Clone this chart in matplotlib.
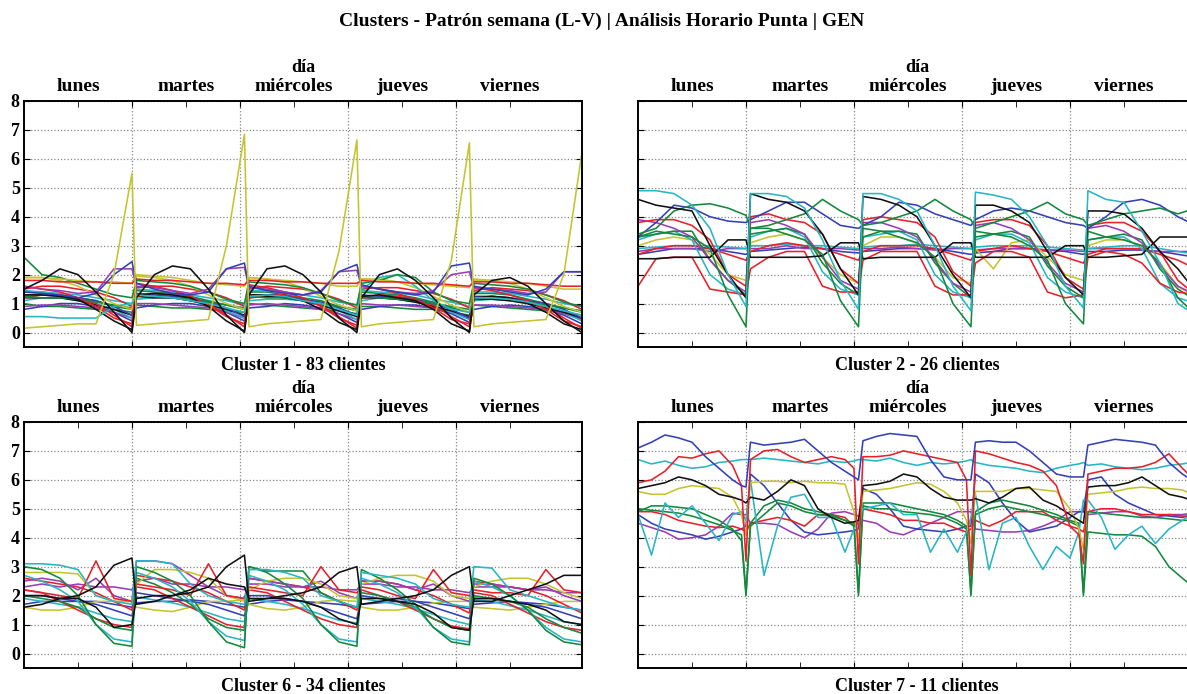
import matplotlib
matplotlib.use('Agg')
import matplotlib.pyplot as plt
import numpy as np

plt.rcParams['font.family'] = ['Liberation Serif', 'DejaVu Serif']
plt.rcParams['font.weight'] = 'bold'

titulo = 'Clusters - Patrón semana (L-V) | Análisis Horario Punta | GEN'
dias = ['lunes', 'martes', 'miércoles', 'jueves', 'viernes']
horas = [0, 4, 8, 12, 16, 20, 24]
horas_c7 = [0, 3, 6, 9, 12, 15, 18, 21, 23, 24]

COLORES = {'b': '#3440b8', 'g': '#14883c', 'r': '#e8202a', 'c': '#26b6c4',
           'm': '#9c3cb4', 'y': '#c4c430', 'k': '#111111'}

# cluster 1 - 83 clientes (valores lunes..viernes, horas 0,4,...,24)
c1_nombre = 'Cluster 1 - 83 clientes'
c1_colores = ['g', 'b', 'm', 'c', 'g', 'k', 'r', 'b', 'c', 'g', 'r', 'y', 'r', 'k', 'c', 'g', 'y', 'r', 'm', 'b', 'k', 'y']
c1_valores = [
    [[1.0, 0.9, 0.9, 0.85, 0.8, 0.8, 0.7], [0.95, 0.9, 0.85, 0.85, 0.8, 0.75, 0.7], [1.0, 0.95, 0.9, 0.85, 0.8, 0.75, 0.65], [0.9, 0.9, 0.85, 0.8, 0.8, 0.7, 0.6], [0.95, 0.9, 0.85, 0.8, 0.75, 0.7, 0.6]],
    [[0.8, 0.9, 1.0, 1.0, 0.9, 0.7, 0.4], [0.85, 0.95, 1.0, 1.0, 0.9, 0.7, 0.4], [0.85, 0.9, 1.0, 0.95, 0.85, 0.65, 0.35], [0.8, 0.9, 0.95, 0.95, 0.85, 0.65, 0.35], [0.8, 0.9, 0.95, 0.9, 0.8, 0.6, 0.3]],
    [[0.9, 0.95, 0.95, 0.9, 0.85, 0.7, 0.5], [1.0, 1.0, 0.95, 0.9, 0.85, 0.7, 0.5], [0.95, 1.0, 0.95, 0.9, 0.8, 0.65, 0.45], [1.0, 0.95, 0.95, 0.9, 0.85, 0.7, 0.5], [0.95, 0.95, 0.9, 0.85, 0.8, 0.65, 0.45]],
    [[1.1, 1.2, 1.2, 1.1, 1.0, 0.8, 0.5], [1.15, 1.2, 1.2, 1.1, 1.0, 0.75, 0.5], [1.1, 1.15, 1.15, 1.1, 0.95, 0.75, 0.45], [1.1, 1.2, 1.15, 1.05, 0.95, 0.7, 0.45], [1.1, 1.15, 1.1, 1.0, 0.9, 0.7, 0.4]],
    [[1.4, 1.4, 1.3, 1.2, 1.1, 0.9, 0.8], [1.45, 1.4, 1.35, 1.25, 1.1, 0.95, 0.8], [1.4, 1.4, 1.3, 1.2, 1.1, 0.9, 0.75], [1.4, 1.35, 1.3, 1.2, 1.05, 0.85, 0.7], [1.35, 1.35, 1.3, 1.15, 1.0, 0.85, 0.7]],
    [[1.2, 1.2, 1.2, 1.1, 0.95, 0.8, 0.6], [1.25, 1.2, 1.2, 1.1, 0.95, 0.8, 0.6], [1.2, 1.25, 1.2, 1.1, 0.95, 0.75, 0.55], [1.2, 1.2, 1.15, 1.05, 0.9, 0.75, 0.55], [1.15, 1.15, 1.1, 1.0, 0.85, 0.7, 0.5]],
    [[1.2, 1.3, 1.3, 1.2, 1.0, 0.6, 0.2], [1.25, 1.35, 1.3, 1.2, 1.0, 0.6, 0.2], [1.2, 1.3, 1.3, 1.15, 0.95, 0.55, 0.15], [1.2, 1.3, 1.25, 1.15, 0.95, 0.55, 0.2], [1.15, 1.25, 1.2, 1.1, 0.9, 0.5, 0.15]],
    [[1.3, 1.3, 1.25, 1.2, 1.1, 0.9, 0.6], [1.35, 1.3, 1.25, 1.2, 1.05, 0.85, 0.55], [1.3, 1.3, 1.25, 1.15, 1.05, 0.85, 0.6], [1.3, 1.25, 1.2, 1.15, 1.0, 0.8, 0.5], [1.25, 1.25, 1.2, 1.1, 1.0, 0.8, 0.5]],
    [[1.45, 1.4, 1.35, 1.3, 1.2, 1.1, 1.0], [1.5, 1.45, 1.4, 1.3, 1.2, 1.1, 0.95], [1.45, 1.45, 1.4, 1.3, 1.2, 1.05, 0.95], [1.45, 1.4, 1.35, 1.3, 1.15, 1.05, 0.9], [1.4, 1.4, 1.35, 1.25, 1.15, 1.0, 0.9]],
    [[1.25, 1.2, 1.2, 1.15, 1.05, 0.95, 0.85], [1.3, 1.25, 1.2, 1.15, 1.05, 0.95, 0.85], [1.25, 1.2, 1.2, 1.1, 1.0, 0.9, 0.8], [1.25, 1.2, 1.15, 1.1, 1.0, 0.9, 0.8], [1.2, 1.2, 1.15, 1.05, 0.95, 0.85, 0.75]],
    [[1.5, 1.6, 1.6, 1.5, 1.4, 1.2, 0.9], [1.55, 1.6, 1.6, 1.5, 1.4, 1.2, 0.9], [1.5, 1.6, 1.55, 1.5, 1.35, 1.15, 0.85], [1.5, 1.55, 1.55, 1.45, 1.35, 1.15, 0.85], [1.45, 1.55, 1.5, 1.45, 1.3, 1.1, 0.8]],
    [[1.9, 1.9, 1.8, 1.6, 1.3, 1.0, 0.8], [1.95, 1.9, 1.8, 1.6, 1.3, 1.0, 0.8], [1.9, 1.85, 1.75, 1.55, 1.25, 0.95, 0.75], [1.85, 1.85, 1.75, 1.55, 1.25, 0.95, 0.7], [1.85, 1.8, 1.7, 1.5, 1.2, 0.9, 0.7]],
    [[1.6, 1.5, 1.4, 1.2, 0.9, 0.5, 0.3], [1.7, 1.6, 1.45, 1.25, 0.95, 0.55, 0.3], [1.65, 1.55, 1.4, 1.2, 0.9, 0.5, 0.25], [1.6, 1.5, 1.35, 1.15, 0.85, 0.45, 0.3], [1.55, 1.45, 1.3, 1.1, 0.8, 0.4, 0.2]],
    [[1.3, 1.3, 1.25, 1.15, 0.8, 0.4, 0.1], [1.3, 1.35, 1.3, 1.2, 0.9, 0.4, 0.05], [1.3, 1.3, 1.25, 1.1, 0.8, 0.35, 0.1], [1.25, 1.3, 1.2, 1.1, 0.8, 0.3, 0.05], [1.2, 1.25, 1.2, 1.0, 0.7, 0.3, 0.1]],
    [[0.55, 0.55, 0.5, 0.5, 0.5, 0.9, 1.0], [1.3, 1.25, 1.2, 1.1, 1.0, 0.85, 0.7], [1.25, 1.3, 1.25, 1.1, 1.0, 0.8, 0.6], [1.5, 1.9, 2.0, 1.6, 1.1, 0.8, 0.7], [1.2, 1.2, 1.15, 1.05, 0.9, 0.75, 0.6]],
    [[2.6, 2.0, 1.9, 1.7, 1.5, 1.3, 1.2], [1.8, 1.75, 1.7, 1.6, 1.4, 1.15, 1.0], [1.75, 1.7, 1.65, 1.55, 1.35, 1.1, 0.95], [1.7, 1.8, 2.0, 1.9, 1.4, 1.1, 1.0], [1.7, 1.65, 1.6, 1.5, 1.3, 1.05, 0.9]],
    [[1.9, 1.9, 1.85, 1.8, 1.75, 1.75, 1.7], [2.0, 1.95, 1.9, 1.8, 1.7, 1.65, 1.6], [1.9, 1.85, 1.8, 1.75, 1.7, 1.6, 1.6], [1.85, 1.8, 1.75, 1.7, 1.65, 1.6, 1.55], [1.8, 1.8, 1.75, 1.7, 1.6, 1.5, 1.5]],
    [[1.8, 1.8, 1.75, 1.75, 1.75, 1.7, 1.7], [1.85, 1.8, 1.8, 1.75, 1.7, 1.7, 1.65], [1.8, 1.8, 1.75, 1.75, 1.7, 1.7, 1.7], [1.8, 1.75, 1.75, 1.7, 1.7, 1.65, 1.6], [1.75, 1.75, 1.7, 1.7, 1.65, 1.6, 1.6]],
    [[1.6, 1.5, 1.45, 1.35, 1.4, 2.2, 2.2], [1.6, 1.55, 1.45, 1.35, 1.5, 2.2, 2.25], [1.55, 1.5, 1.4, 1.3, 1.45, 2.1, 2.15], [1.6, 1.5, 1.4, 1.35, 1.45, 2.0, 2.1], [1.55, 1.5, 1.45, 1.35, 1.4, 2.1, 2.1]],
    [[1.4, 1.35, 1.3, 1.2, 1.35, 2.0, 2.45], [1.7, 1.5, 1.35, 1.3, 1.4, 2.2, 2.4], [1.6, 1.45, 1.35, 1.3, 1.4, 2.1, 2.35], [1.65, 1.5, 1.4, 1.3, 1.4, 2.3, 2.4], [1.6, 1.5, 1.4, 1.3, 1.5, 2.1, 2.1]],
    [[1.5, 1.8, 2.2, 2.0, 1.4, 0.7, 0.0], [1.2, 2.0, 2.3, 2.2, 1.5, 0.6, 0.0], [1.3, 2.2, 2.3, 2.0, 1.4, 0.5, 0.0], [1.2, 2.0, 2.2, 1.8, 1.2, 0.5, 0.0], [1.3, 1.8, 1.9, 1.6, 1.0, 0.4, 0.0]],
    [[0.15, 0.2, 0.25, 0.3, 0.3, 2.0, 5.5], [0.25, 0.3, 0.35, 0.4, 0.45, 3.0, 6.85], [0.2, 0.3, 0.35, 0.4, 0.45, 2.8, 6.65], [0.2, 0.3, 0.35, 0.4, 0.45, 2.5, 6.55], [0.2, 0.3, 0.35, 0.4, 0.45, 2.0, 6.2]],
]

# cluster 2 - 26 clientes
c2_nombre = 'Cluster 2 - 26 clientes'
c2_colores = ['b', 'm', 'c', 'r', 'y', 'c', 'g', 'm', 'r', 'r', 'k', 'g', 'b', 'g', 'k', 'c']
c2_valores = [
    [[2.7, 2.8, 2.9, 2.9, 2.9, 2.8, 2.7], [2.8, 2.85, 2.9, 2.95, 2.9, 2.8, 2.75], [2.8, 2.85, 2.9, 2.9, 2.9, 2.8, 2.7], [2.75, 2.8, 2.9, 2.9, 2.85, 2.8, 2.7], [2.8, 2.8, 2.85, 2.85, 2.8, 2.7, 2.6]],
    [[2.8, 2.9, 2.9, 2.9, 2.8, 2.9, 2.9], [2.9, 2.9, 3.0, 2.9, 2.9, 2.9, 2.85], [2.9, 2.9, 2.95, 2.9, 2.85, 2.9, 2.9], [2.85, 2.9, 2.9, 2.9, 2.85, 2.85, 2.8], [2.9, 2.9, 2.9, 2.85, 2.8, 2.8, 2.8]],
    [[2.9, 2.95, 3.0, 3.0, 3.0, 2.95, 2.9], [3.0, 3.0, 3.05, 3.0, 3.0, 2.95, 2.9], [2.95, 3.0, 3.0, 3.05, 3.0, 2.95, 2.9], [2.95, 3.0, 3.0, 3.0, 2.95, 2.9, 2.85], [2.9, 2.95, 3.0, 3.0, 2.9, 2.8, 2.7]],
    [[2.7, 2.9, 3.0, 3.0, 2.9, 2.7, 2.5], [2.8, 3.0, 3.1, 3.0, 2.9, 2.7, 2.5], [2.8, 3.0, 3.0, 3.0, 2.9, 2.7, 2.5], [2.8, 2.9, 3.0, 2.9, 2.8, 2.6, 2.4], [2.7, 2.9, 2.9, 2.9, 2.7, 2.5, 2.2]],
    [[3.0, 3.2, 3.3, 3.2, 2.7, 2.0, 1.8], [3.1, 3.3, 3.4, 3.2, 2.6, 2.0, 1.7], [3.0, 3.3, 3.3, 3.1, 2.6, 1.9, 1.7], [2.9, 2.2, 3.1, 3.2, 2.6, 2.0, 1.8], [3.0, 3.2, 3.2, 3.0, 2.4, 1.6, 1.2]],
    [[3.2, 3.4, 3.5, 3.2, 2.0, 1.5, 1.3], [3.3, 3.5, 3.6, 3.3, 2.1, 1.5, 1.3], [3.3, 3.4, 3.5, 3.2, 2.0, 1.4, 1.2], [3.2, 3.4, 3.4, 3.1, 1.9, 1.4, 1.2], [3.2, 3.3, 3.3, 2.9, 1.7, 1.2, 1.0]],
    [[3.3, 3.4, 3.5, 3.5, 2.5, 1.8, 1.3], [3.4, 3.5, 3.6, 3.4, 2.4, 1.7, 1.3], [3.3, 3.5, 3.5, 3.4, 2.4, 1.7, 1.2], [3.3, 3.4, 3.5, 3.3, 2.3, 1.6, 1.2], [3.2, 3.3, 3.4, 3.2, 2.2, 1.5, 1.1]],
    [[3.9, 3.8, 3.6, 3.3, 2.5, 1.8, 1.4], [3.8, 3.9, 3.7, 3.4, 2.6, 1.8, 1.5], [3.8, 3.8, 3.6, 3.3, 2.5, 1.7, 1.4], [3.7, 3.8, 3.6, 3.2, 2.4, 1.7, 1.4], [3.6, 3.7, 3.5, 3.1, 2.3, 1.6, 1.3]],
    [[1.6, 2.55, 2.6, 2.6, 1.5, 1.4, 1.3], [2.2, 2.6, 2.8, 2.8, 1.6, 1.4, 1.4], [2.5, 2.8, 2.8, 2.8, 1.6, 1.3, 1.3], [2.4, 2.8, 2.8, 2.6, 1.4, 1.2, 1.3], [2.6, 2.8, 2.7, 2.4, 1.7, 1.4, 1.3]],
    [[3.8, 3.9, 3.9, 3.7, 3.2, 2.0, 1.6], [4.0, 4.1, 3.9, 3.8, 3.4, 2.2, 1.7], [3.9, 4.0, 3.9, 3.8, 3.3, 2.1, 1.6], [3.8, 3.9, 3.9, 3.7, 3.0, 1.9, 1.5], [3.7, 3.8, 3.8, 3.5, 2.8, 1.8, 1.3]],
    [[2.55, 2.55, 2.6, 2.6, 2.6, 3.2, 3.2], [2.6, 2.6, 2.6, 2.6, 2.65, 3.1, 3.1], [2.55, 2.6, 2.6, 2.6, 2.6, 3.1, 3.1], [2.6, 2.6, 2.6, 2.6, 2.6, 3.0, 3.0], [2.6, 2.6, 2.65, 2.7, 3.3, 3.3, 3.3]],
    [[3.3, 3.5, 3.4, 3.3, 2.9, 1.3, 0.2], [3.6, 3.6, 3.4, 3.2, 2.7, 1.1, 0.2], [3.6, 3.5, 3.3, 3.1, 2.6, 1.0, 0.2], [3.5, 3.4, 3.3, 3.0, 2.5, 1.0, 0.3], [3.5, 3.3, 3.2, 3.0, 2.4, 1.2, 0.6]],
    [[3.3, 3.8, 4.4, 4.3, 4.0, 3.85, 3.8], [3.9, 4.2, 4.5, 4.5, 4.1, 3.7, 3.6], [3.7, 4.0, 4.5, 4.4, 4.1, 3.9, 3.7], [3.9, 4.2, 4.3, 4.2, 4.0, 3.8, 3.7], [3.6, 4.0, 4.5, 4.6, 4.4, 4.0, 3.7]],
    [[3.4, 3.6, 4.2, 4.4, 4.45, 4.3, 4.05], [3.6, 3.7, 3.9, 4.1, 4.6, 4.2, 3.9], [3.7, 3.8, 4.0, 4.2, 4.6, 4.2, 3.9], [3.6, 3.8, 4.0, 4.2, 4.5, 4.1, 3.9], [3.7, 3.9, 4.1, 4.2, 4.3, 4.1, 4.3]],
    [[4.6, 4.4, 4.3, 4.2, 3.0, 2.0, 1.2], [4.8, 4.6, 4.5, 4.2, 3.4, 2.2, 1.3], [4.7, 4.6, 4.4, 4.0, 3.0, 2.0, 1.2], [4.4, 4.4, 4.2, 3.8, 2.8, 1.9, 1.3], [4.2, 4.2, 4.1, 3.6, 2.8, 2.2, 1.4]],
    [[4.9, 4.9, 4.8, 4.4, 3.6, 2.0, 0.9], [4.8, 4.8, 4.7, 4.3, 3.2, 1.8, 0.8], [4.8, 4.8, 4.6, 4.2, 3.0, 1.6, 0.75], [4.85, 4.75, 4.6, 4.0, 3.0, 1.6, 0.85], [4.9, 4.6, 4.5, 3.5, 2.4, 1.0, 0.6]],
]

# cluster 6 - 34 clientes
c6_nombre = 'Cluster 6 - 34 clientes'
c6_colores = ['b', 'y', 'c', 'b', 'r', 'm', 'r', 'g', 'm', 'y', 'r', 'c', 'g', 'c', 'k', 'k']
c6_valores = [
    [[1.7, 1.8, 1.8, 1.8, 1.8, 1.7, 1.6], [1.75, 1.8, 1.8, 1.85, 1.8, 1.7, 1.6], [1.7, 1.8, 1.85, 1.8, 1.75, 1.7, 1.6], [1.7, 1.75, 1.8, 1.8, 1.75, 1.65, 1.55], [1.7, 1.75, 1.8, 1.75, 1.7, 1.6, 1.5]],
    [[1.6, 1.5, 1.5, 1.6, 1.8, 1.8, 1.8], [1.6, 1.5, 1.45, 1.6, 1.8, 1.8, 1.85], [1.7, 1.55, 1.5, 1.6, 1.8, 1.85, 1.8], [1.6, 1.5, 1.5, 1.6, 1.75, 1.8, 1.8], [1.6, 1.55, 1.5, 1.6, 1.7, 1.8, 1.8]],
    [[1.9, 1.8, 1.7, 1.6, 1.4, 1.2, 1.1], [1.95, 1.85, 1.75, 1.6, 1.4, 1.2, 1.1], [1.9, 1.8, 1.7, 1.55, 1.35, 1.15, 1.05], [1.9, 1.8, 1.7, 1.55, 1.35, 1.15, 1.0], [1.85, 1.8, 1.65, 1.5, 1.3, 1.1, 1.0]],
    [[2.0, 2.0, 1.9, 1.8, 1.7, 1.5, 1.3], [2.1, 2.0, 1.9, 1.8, 1.7, 1.5, 1.3], [2.0, 2.0, 1.9, 1.8, 1.6, 1.4, 1.2], [2.0, 1.9, 1.9, 1.8, 1.6, 1.4, 1.2], [1.9, 1.9, 1.8, 1.7, 1.6, 1.4, 1.2]],
    [[2.2, 2.1, 1.8, 1.5, 1.2, 1.0, 0.9], [2.3, 2.2, 1.9, 1.6, 1.3, 1.0, 0.9], [2.2, 2.1, 1.8, 1.5, 1.2, 1.0, 0.9], [2.2, 2.0, 1.8, 1.5, 1.2, 0.95, 0.85], [2.1, 2.0, 1.7, 1.4, 1.1, 0.9, 0.8]],
    [[2.3, 2.4, 2.3, 2.4, 2.3, 2.3, 2.2], [2.5, 2.6, 2.4, 2.4, 2.3, 2.3, 2.2], [2.4, 2.4, 2.3, 2.3, 2.3, 2.2, 2.2], [2.4, 2.4, 2.3, 2.3, 2.2, 2.2, 2.1], [2.3, 2.3, 2.3, 2.2, 2.2, 2.1, 2.1]],
    [[2.6, 2.5, 2.4, 2.3, 2.1, 1.8, 1.5], [2.7, 2.6, 2.5, 2.3, 2.1, 1.8, 1.5], [2.6, 2.5, 2.4, 2.3, 2.1, 1.8, 1.5], [2.5, 2.5, 2.4, 2.2, 2.0, 1.7, 1.4], [2.5, 2.4, 2.3, 2.2, 2.0, 1.7, 1.4]],
    [[2.0, 1.9, 1.8, 1.6, 1.2, 0.9, 0.8], [2.6, 2.4, 2.1, 1.7, 1.2, 0.9, 0.8], [3.0, 2.85, 2.85, 2.85, 2.1, 1.8, 1.6], [2.1, 2.0, 1.8, 1.6, 1.2, 0.9, 0.8], [2.0, 1.9, 1.8, 1.6, 1.2, 0.9, 0.7]],
    [[2.5, 2.6, 2.5, 2.2, 2.6, 2.0, 1.8], [3.2, 3.2, 3.1, 2.7, 2.3, 2.0, 1.9], [2.6, 2.5, 2.4, 2.3, 2.5, 2.1, 1.9], [2.5, 2.5, 2.4, 2.2, 2.4, 2.0, 1.8], [2.4, 2.4, 2.3, 2.2, 2.3, 2.0, 1.8]],
    [[2.8, 2.8, 2.8, 2.75, 2.0, 1.8, 1.8], [2.4, 2.9, 2.9, 2.8, 2.6, 2.0, 1.8], [2.2, 2.5, 2.6, 2.6, 2.4, 2.0, 1.9], [2.4, 2.6, 2.7, 2.7, 2.5, 2.0, 1.9], [2.3, 2.5, 2.6, 2.6, 2.4, 2.1, 1.9]],
    [[2.2, 2.1, 2.0, 1.9, 3.2, 1.9, 1.8], [2.4, 2.3, 2.2, 2.0, 3.1, 2.0, 1.9], [2.3, 2.2, 2.1, 2.0, 3.0, 2.2, 2.1], [2.3, 2.2, 2.0, 1.9, 2.9, 2.1, 2.0], [2.2, 2.1, 2.1, 2.0, 2.9, 2.2, 2.1]],
    [[2.7, 2.5, 2.2, 1.8, 1.0, 0.5, 0.4], [2.8, 2.6, 2.3, 1.8, 1.1, 0.6, 0.45], [2.7, 2.5, 2.2, 1.7, 1.0, 0.5, 0.4], [2.6, 2.4, 2.1, 1.6, 0.9, 0.5, 0.4], [2.5, 2.3, 2.0, 1.5, 0.9, 0.5, 0.4]],
    [[3.0, 2.9, 2.6, 2.0, 1.0, 0.35, 0.25], [3.0, 2.8, 2.5, 2.0, 1.1, 0.4, 0.2], [3.0, 2.8, 2.4, 1.9, 1.0, 0.4, 0.25], [2.9, 2.6, 2.2, 1.7, 0.9, 0.4, 0.3], [2.6, 2.4, 2.0, 1.5, 0.8, 0.4, 0.3]],
    [[3.1, 3.1, 3.05, 2.9, 2.0, 1.8, 1.7], [3.2, 3.2, 3.1, 2.4, 2.0, 1.8, 1.7], [2.9, 2.9, 2.8, 2.6, 2.0, 1.8, 1.6], [2.8, 2.7, 2.6, 2.4, 1.9, 1.7, 1.6], [3.0, 2.95, 2.2, 2.0, 1.8, 1.6, 1.5]],
    [[2.0, 2.0, 1.9, 1.9, 1.6, 0.9, 1.0], [1.9, 2.0, 2.0, 2.2, 2.6, 2.4, 2.3], [1.9, 1.9, 1.9, 1.8, 1.6, 1.2, 1.0], [1.9, 1.9, 1.8, 1.7, 1.4, 0.9, 0.8], [1.9, 1.9, 1.8, 1.7, 1.5, 1.1, 1.0]],
    [[1.6, 1.7, 1.9, 2.0, 2.3, 3.05, 3.3], [1.7, 1.8, 2.0, 2.1, 2.3, 3.0, 3.4], [1.8, 1.9, 2.0, 2.1, 2.3, 2.8, 3.0], [1.7, 1.8, 1.9, 2.0, 2.2, 2.7, 3.0], [1.8, 1.8, 2.0, 2.2, 2.4, 2.7, 2.7]],
]

# cluster 7 - 11 clientes (horas 0,3,...,21,23,24)
c7_nombre = 'Cluster 7 - 11 clientes'
c7_colores = ['m', 'b', 'r', 'g', 'g', 'c', 'y', 'k', 'c', 'r', 'b']
c7_valores = [
    [[4.5, 4.35, 4.2, 3.95, 4.0, 4.1, 4.4, 4.85, 4.8, 4.8], [4.5, 4.5, 4.45, 4.2, 4.0, 4.3, 4.85, 4.9, 4.8, 4.75], [4.6, 4.5, 4.2, 4.1, 4.3, 4.5, 4.7, 4.9, 4.9, 4.9], [4.3, 4.25, 4.2, 4.2, 4.25, 4.4, 4.6, 4.9, 4.9, 4.9], [4.8, 4.85, 4.9, 4.9, 4.75, 4.7, 4.8, 4.8, 4.85, 4.9]],
    [[4.8, 4.5, 4.3, 4.2, 4.1, 3.95, 4.05, 4.2, 4.3, 4.4], [6.2, 5.8, 5.2, 4.6, 4.2, 4.1, 4.15, 4.2, 4.25, 4.3], [5.7, 5.5, 5.0, 4.4, 4.3, 4.25, 4.2, 4.3, 4.4, 4.4], [6.2, 5.9, 5.2, 4.6, 4.2, 4.3, 4.4, 4.7, 4.9, 4.9], [6.0, 6.1, 5.5, 5.2, 5.0, 4.8, 4.75, 4.7, 4.8, 4.9]],
    [[4.9, 4.9, 4.8, 4.6, 4.5, 4.4, 4.35, 4.4, 4.3, 4.2], [4.5, 4.6, 4.7, 4.6, 4.4, 4.8, 4.8, 4.7, 4.4, 4.5], [5.0, 4.9, 4.8, 4.6, 4.6, 4.5, 4.5, 4.3, 4.2, 4.3], [4.6, 4.4, 4.6, 4.9, 4.9, 4.9, 4.6, 4.4, 4.3, 4.2], [4.9, 5.0, 5.0, 4.9, 4.8, 4.8, 4.8, 4.75, 4.75, 4.75]],
    [[4.9, 5.1, 5.1, 5.05, 5.0, 4.8, 4.6, 4.3, 3.9, 2.0], [4.5, 5.1, 5.3, 5.2, 5.0, 4.9, 4.8, 4.6, 4.5, 2.0], [5.2, 5.2, 5.2, 5.1, 5.0, 4.9, 4.8, 4.6, 4.4, 2.0], [4.9, 5.2, 5.3, 5.2, 5.1, 4.95, 4.8, 4.6, 4.5, 2.0], [4.2, 4.15, 4.1, 4.1, 4.05, 3.7, 3.0, 2.6, 2.35, 2.25]],
    [[5.0, 4.95, 4.9, 4.85, 4.75, 4.6, 4.45, 4.25, 4.1, 2.1], [4.4, 4.8, 5.2, 5.1, 4.9, 4.8, 4.75, 4.6, 4.4, 2.1], [5.1, 5.0, 5.0, 4.9, 4.85, 4.8, 4.7, 4.5, 4.3, 2.1], [4.8, 5.0, 5.1, 5.0, 4.9, 4.8, 4.7, 4.55, 4.4, 2.1], [4.9, 4.85, 4.8, 4.75, 4.7, 4.7, 4.65, 4.6, 4.6, 4.55]],
    [[4.8, 3.4, 5.2, 4.7, 5.1, 4.5, 3.9, 4.8, 4.9, 4.6], [6.0, 2.7, 4.4, 5.4, 5.5, 4.7, 4.7, 3.5, 4.3, 4.6], [5.0, 5.1, 5.2, 4.8, 4.8, 3.5, 4.3, 3.5, 4.2, 4.7], [5.5, 2.9, 4.5, 4.7, 3.7, 2.9, 3.7, 3.3, 4.2, 5.3], [5.3, 4.7, 3.6, 4.1, 4.4, 3.8, 4.3, 4.6, 4.8, 4.9]],
    [[5.6, 5.5, 5.5, 5.7, 5.8, 5.75, 5.7, 5.4, 4.8, 4.1], [5.9, 5.95, 5.95, 5.9, 5.95, 5.9, 5.9, 5.85, 4.9, 3.9], [5.6, 5.65, 5.7, 5.8, 5.9, 5.85, 5.6, 5.2, 4.6, 3.8], [5.6, 5.6, 5.6, 5.7, 5.7, 5.65, 5.6, 5.0, 4.3, 3.6], [5.5, 5.55, 5.6, 5.7, 5.75, 5.7, 5.7, 5.65, 5.5, 5.4]],
    [[5.7, 5.8, 5.9, 6.1, 6.0, 5.8, 5.5, 5.4, 5.3, 5.2], [5.4, 5.3, 5.6, 6.0, 5.8, 5.0, 4.7, 4.5, 4.55, 4.6], [5.8, 5.85, 5.95, 6.2, 6.1, 5.7, 5.4, 5.3, 5.3, 5.3], [5.35, 5.2, 5.4, 5.7, 5.75, 5.3, 5.1, 4.8, 4.6, 4.5], [5.75, 5.8, 5.8, 5.9, 6.1, 5.8, 5.5, 5.4, 5.3, 5.3]],
    [[6.7, 6.55, 6.65, 6.5, 6.4, 6.45, 6.6, 6.65, 6.7, 6.7], [6.7, 6.75, 6.7, 6.65, 6.6, 6.55, 6.65, 6.6, 6.65, 6.7], [6.7, 6.65, 6.75, 6.6, 6.5, 6.6, 6.55, 6.6, 6.65, 6.7], [6.6, 6.5, 6.45, 6.4, 6.3, 6.25, 6.4, 6.5, 6.55, 6.6], [6.5, 6.55, 6.45, 6.4, 6.35, 6.4, 6.5, 6.55, 6.6, 6.6]],
    [[5.9, 6.0, 6.3, 6.8, 6.75, 6.9, 7.0, 6.5, 5.8, 3.2], [6.7, 7.0, 7.05, 6.8, 6.6, 6.7, 6.8, 6.7, 6.4, 3.1], [6.8, 6.8, 6.85, 7.0, 6.9, 6.8, 6.7, 6.6, 6.0, 2.7], [7.0, 6.9, 6.75, 6.6, 6.5, 6.3, 5.8, 4.4, 4.1, 3.1], [6.2, 6.3, 6.4, 6.4, 6.45, 6.6, 6.9, 6.4, 6.1, 6.0]],
    [[7.1, 7.3, 7.55, 7.45, 7.3, 6.8, 6.4, 6.0, 5.8, 5.75], [7.3, 7.2, 7.25, 7.3, 7.4, 7.0, 6.6, 6.3, 6.1, 6.0], [7.35, 7.5, 7.6, 7.55, 7.5, 6.7, 6.1, 6.0, 6.0, 6.0], [7.3, 7.35, 7.3, 7.3, 7.0, 6.6, 6.2, 6.1, 6.1, 6.1], [7.2, 7.3, 7.4, 7.35, 7.3, 7.2, 6.6, 6.2, 6.0, 5.9]],
]

PUNTOS_DIA = 25


def eje_x(hs):
    return np.array([d * PUNTOS_DIA + h for d in range(len(dias)) for h in hs])


def draw_cluster(ax, valores, colores, hs, nombre, etiquetas_y=True):
    x = eje_x(hs)
    for vals, col in zip(valores, colores):
        ax.plot(x, np.ravel(vals), color=COLORES[col], linewidth=1.15)
    ax.set_xlim(0, 124)
    ax.set_ylim(-0.5, 8)
    ax.set_yticks(range(0, 9))
    ax.set_xticks([24, 48, 72, 96])
    ax.set_xticklabels([])
    ax.set_xticks([12, 36, 60, 84, 108], minor=True)
    ax.set_xticklabels(dias, minor=True, fontsize=14, fontweight='bold')
    ax.tick_params(axis='x', which='both', top=True, bottom=True, labeltop=True,
                   labelbottom=False, direction='in', length=4, pad=4.5)
    ax.tick_params(axis='y', direction='in', length=4, right=True, labelsize=13,
                   labelleft=etiquetas_y, pad=3)
    ax.xaxis.set_label_position('top')
    ax.set_xlabel('día', fontsize=13, fontweight='bold', labelpad=4)
    ax.grid(True, which='major', linestyle=':', color='#888888', linewidth=0.9)
    for s in ax.spines.values():
        s.set_linewidth(1.4)
    ax.text(0.5, -0.075, nombre, transform=ax.transAxes, ha='center', va='center',
            fontsize=13, fontweight='bold')


fig = plt.figure(figsize=(11.87, 6.94), dpi=100)
fig.text(0.507, 1 - 21 / 694, titulo, ha='center', va='center', fontsize=14, fontweight='bold')

ax1 = fig.add_axes([0.0202, 0.5, 0.470, 0.3545])
ax2 = fig.add_axes([0.5375, 0.5, 0.470, 0.3545])
ax6 = fig.add_axes([0.0202, 0.0375, 0.470, 0.3545])
ax7 = fig.add_axes([0.5375, 0.0375, 0.470, 0.3545])

draw_cluster(ax1, c1_valores, c1_colores, horas, c1_nombre)
draw_cluster(ax2, c2_valores, c2_colores, horas, c2_nombre, etiquetas_y=False)
draw_cluster(ax6, c6_valores, c6_colores, horas, c6_nombre)
draw_cluster(ax7, c7_valores, c7_colores, horas_c7, c7_nombre, etiquetas_y=False)

fig.savefig('out.png', dpi=100)
